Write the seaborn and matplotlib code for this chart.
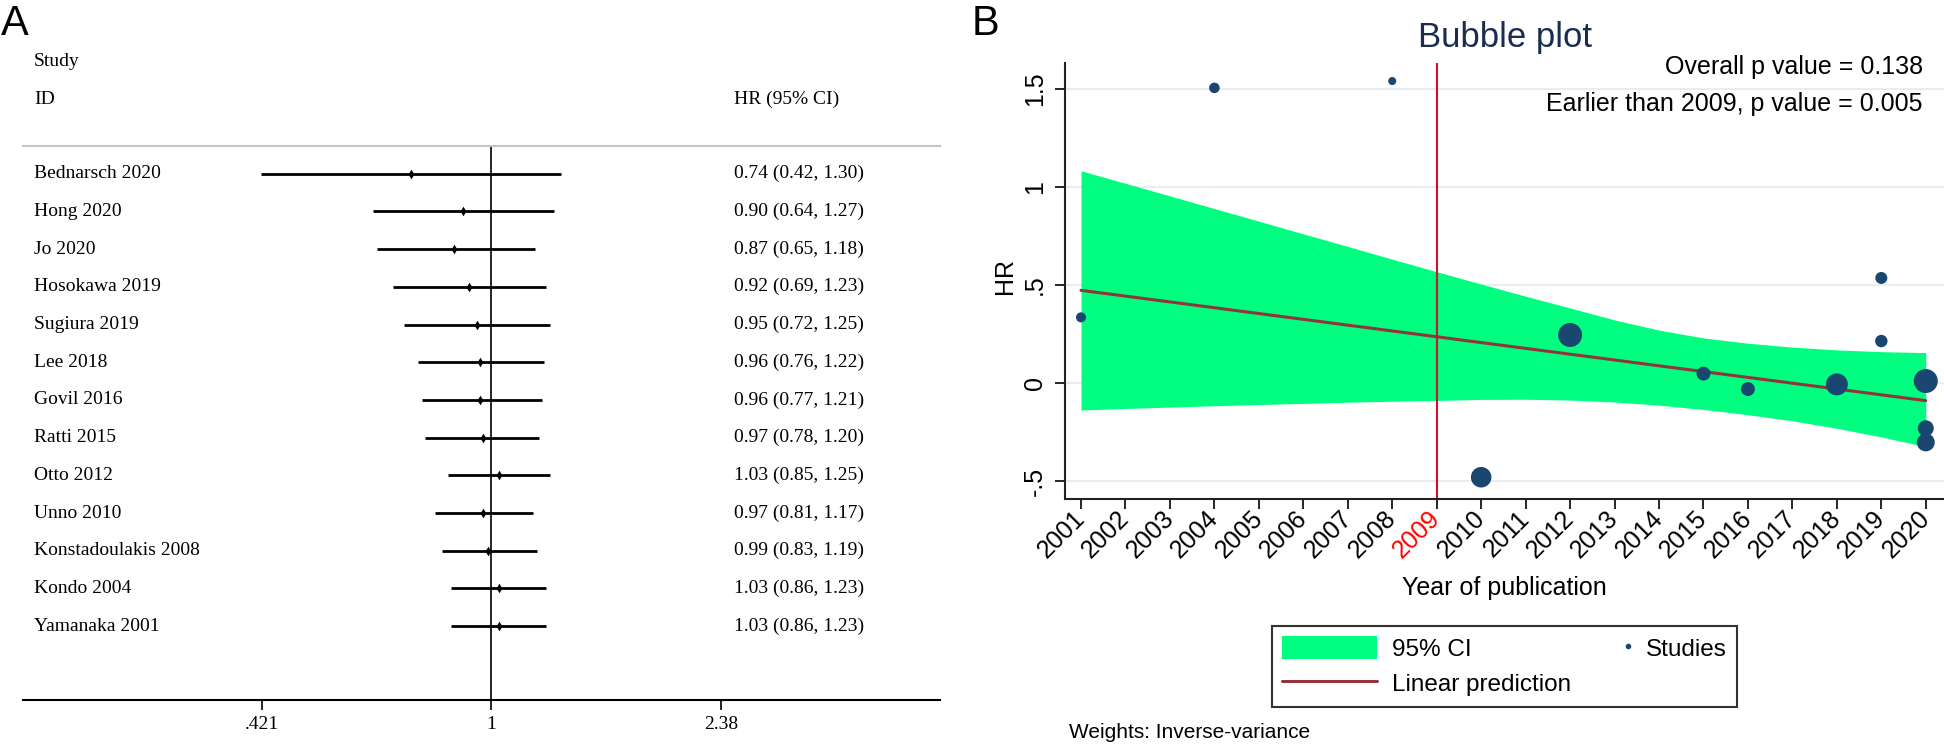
import numpy as np
import matplotlib
matplotlib.use("Agg")
import matplotlib.pyplot as plt
import matplotlib.transforms as mtransforms
from matplotlib.lines import Line2D
from matplotlib.patches import Patch
from matplotlib.legend_handler import HandlerLine2D
from matplotlib.ticker import NullLocator
import seaborn as sns

# --- Panel A: forest plot data ---
study_ids = ["Bednarsch 2020", "Hong 2020", "Jo 2020", "Hosokawa 2019", "Sugiura 2019",
             "Lee 2018", "Govil 2016", "Ratti 2015", "Otto 2012", "Unno 2010",
             "Konstadoulakis 2008", "Kondo 2004", "Yamanaka 2001"]
hr = [0.74, 0.90, 0.87, 0.92, 0.95, 0.96, 0.96, 0.97, 1.03, 0.97, 0.99, 1.03, 1.03]
hr_lo = [0.42, 0.64, 0.65, 0.69, 0.72, 0.76, 0.77, 0.78, 0.85, 0.81, 0.83, 0.86, 0.86]
hr_hi = [1.30, 1.27, 1.18, 1.23, 1.25, 1.22, 1.21, 1.20, 1.25, 1.17, 1.19, 1.23, 1.23]
forest_ticks = [0.421, 1, 2.38]
forest_tick_labels = [".421", "1", "2.38"]

# --- Panel B: bubble plot data ---
pub_year = [2001, 2004, 2008, 2010, 2012, 2015, 2016, 2018, 2019, 2019, 2020, 2020, 2020]
log_hr = [0.335, 1.506, 1.541, -0.481, 0.245, 0.048, -0.031, -0.007, 0.536, 0.214, 0.010, -0.231, -0.303]
study_weight = [2.8, 3.1, 1.8, 11.7, 16.0, 5.4, 5.4, 13.4, 4.0, 4.3, 16.0, 7.1, 9.0]
band_years = [2001, 2002, 2003, 2004, 2005, 2006, 2007, 2008, 2009, 2010,
              2011, 2012, 2013, 2014, 2015, 2016, 2017, 2018, 2019, 2020]
ci_upper = [1.083, 1.019, 0.955, 0.890, 0.826, 0.761, 0.697, 0.632, 0.568, 0.505,
            0.443, 0.383, 0.322, 0.270, 0.230, 0.203, 0.183, 0.169, 0.160, 0.155]
ci_lower = [-0.138, -0.130, -0.123, -0.116, -0.110, -0.104, -0.098, -0.093, -0.089, -0.084,
            -0.083, -0.087, -0.097, -0.113, -0.135, -0.162, -0.193, -0.231, -0.275, -0.325]
fit_years = [2001, 2020]
fit_values = [0.473, -0.090]
year_labels = [str(y) for y in band_years]
hr_ticks = [-0.5, 0, 0.5, 1, 1.5]
hr_tick_labels = ["-.5", "0", ".5", "1", "1.5"]

GREEN = "#00ff80"
MAROON = "#93343d"
NAVY = "#1a476f"
SERIF = ["Liberation Serif", "DejaVu Serif"]

sns.set_theme(style="white")
plt.rcParams["font.family"] = ["Liberation Sans", "DejaVu Sans"]
plt.rcParams["text.color"] = "black"
plt.rcParams["axes.labelcolor"] = "black"
plt.rcParams["xtick.color"] = "black"
plt.rcParams["ytick.color"] = "black"

W, H = 1944, 747
fig = plt.figure(figsize=(W / 100, H / 100), dpi=100)


def fx(px):
    return px / W


def fy(py):
    return 1 - py / H


class HandlerDotRight(HandlerLine2D):
    # single legend dot sits at the right end of the handle
    def get_xdata(self, legend, xdescent, ydescent, width, height, fontsize):
        xdata = [-xdescent + width - 0.2 * fontsize, -xdescent + width]
        return xdata, [-xdescent + width - 0.1 * fontsize]


# ---------------- Panel A ----------------
axA = fig.add_axes([fx(23), fy(700), fx(940) - fx(23), fy(145.7) - fy(700)])
rows = np.arange(len(study_ids))
axA.set_xscale("log")
axA.hlines(rows, hr_lo, hr_hi, color="black", lw=2)
sns.scatterplot(x=hr, y=rows, marker="d", s=24, color="black", linewidth=0, ax=axA, zorder=3)
axA.axvline(1, color="black", lw=1.2)
axA.set_xlim(np.exp((23 - 491) / 265), np.exp((940 - 491) / 265))
axA.set_ylim(13.96, -0.743)
axA.set_xticks(forest_ticks, forest_tick_labels)
axA.xaxis.set_minor_locator(NullLocator())
axA.set_yticks([])
axA.tick_params(axis="x", direction="out", length=7.2, width=1.2, pad=4, labelsize=14, bottom=True)
for lbl in axA.get_xticklabels():
    lbl.set_family(SERIF)
for side in ["left", "right"]:
    axA.spines[side].set_visible(False)
axA.spines["top"].set_color("#c4c4c4")
axA.spines["top"].set_linewidth(1.5)
axA.spines["bottom"].set_color("black")
axA.spines["bottom"].set_linewidth(1.5)
axA.set_xlabel("")
axA.set_ylabel("")

trans = mtransforms.blended_transform_factory(fig.transFigure, axA.transData)
for i, name in enumerate(study_ids):
    axA.text(fx(34), i, name, transform=trans, ha="left", va="center", fontsize=14, family=SERIF)
    axA.text(fx(734), i, f"{hr[i]:.2f} ({hr_lo[i]:.2f}, {hr_hi[i]:.2f})", transform=trans,
             ha="left", va="center", fontsize=14, family=SERIF)

fig.text(fx(34), fy(62), "Study", ha="left", va="center", fontsize=14, family=SERIF)
fig.text(fx(34), fy(99.5), "ID", ha="left", va="center", fontsize=14, family=SERIF)
fig.text(fx(734), fy(99.5), "HR (95% CI)", ha="left", va="center", fontsize=14, family=SERIF)
fig.text(fx(1), fy(35), "A", ha="left", va="baseline", fontsize=30)
fig.text(fx(972), fy(35), "B", ha="left", va="baseline", fontsize=30)

# ---------------- Panel B ----------------
axB = fig.add_axes([fx(1065), fy(499), 1 - fx(1065), fy(63) - fy(499)])
axB.set_axisbelow(True)
axB.yaxis.grid(True, color="#e6eef1", lw=1.5)
axB.xaxis.grid(False)
axB.fill_between(band_years, ci_lower, ci_upper, color=GREEN, lw=0, zorder=1)
sns.lineplot(x=fit_years, y=fit_values, color=MAROON, lw=2.2, ax=axB, zorder=2)
axB.axvline(2009, color="#d0112b", lw=1.5, zorder=2)
sns.scatterplot(x=pub_year, y=log_hr, size=study_weight, sizes=(0, 16 * 18.67), size_norm=(0, 16),
                color=NAVY, linewidth=0, legend=False, ax=axB, zorder=4)

axB.set_xlim(2000.64, 2020.41)
axB.set_ylim(-0.592, 1.633)
axB.set_xticks(band_years, year_labels)
axB.set_yticks(hr_ticks, hr_tick_labels)
axB.tick_params(axis="both", direction="out", length=7.2, width=1.2, labelsize=18, left=True, bottom=True)
axB.tick_params(axis="x", pad=4)
axB.tick_params(axis="y", pad=6)
for lbl in axB.get_xticklabels():
    lbl.set_rotation(45)
    lbl.set_ha("right")
    lbl.set_va("center")
    lbl.set_rotation_mode("anchor")
axB.get_xticklabels()[year_labels.index("2009")].set_color("red")
for lbl in axB.get_yticklabels():
    lbl.set_rotation(90)
    lbl.set_va("center")
    lbl.set_ha("right")
for side in ["top", "right"]:
    axB.spines[side].set_visible(False)
for side in ["left", "bottom"]:
    axB.spines[side].set_color("#222222")
    axB.spines[side].set_linewidth(1.5)

axB.set_title("Bubble plot", fontsize=25, color="#1b2d4f", pad=11.7)
axB.set_xlabel("Year of publication", fontsize=18)
axB.xaxis.set_label_coords(0.5, (499 - 588) / 436)
axB.xaxis.label.set_va("center")
axB.set_ylabel("HR", fontsize=18)
axB.yaxis.set_label_coords((1005 - 1065) / 879, (499 - 276) / 436)
axB.yaxis.label.set_va("center")

axB.text(0.9758, (499 - 67) / 436, "Overall p value = 0.138", transform=axB.transAxes,
         ha="right", va="center", fontsize=18)
axB.text(0.9758, (499 - 104) / 436, "Earlier than 2009, p value = 0.005", transform=axB.transAxes,
         ha="right", va="center", fontsize=18)

handles = [
    Patch(facecolor=GREEN, edgecolor="none", label="95% CI"),
    Line2D([], [], color=MAROON, lw=2.2, label="Linear prediction"),
    Line2D([], [], ls="none", marker="o", ms=3, color=NAVY, label="Studies"),
]
leg = fig.legend(handles=handles, ncol=2, mode="expand", loc="center",
                 bbox_to_anchor=(fx(1271.7), fy(710), fx(1736.7) - fx(1271.7), fy(622.3) - fy(710)),
                 bbox_transform=fig.transFigure, fontsize=17.5, handlelength=3.9, handleheight=1.1,
                 handletextpad=0.64, labelspacing=0.44, borderpad=0.42, borderaxespad=0,
                 fancybox=False, frameon=True, edgecolor="#333333", framealpha=1,
                 handler_map={handles[2]: HandlerDotRight()})
leg.get_frame().set_linewidth(1.5)

fig.text(fx(1069), fy(733), "Weights: Inverse-variance", ha="left", va="center", fontsize=15)

fig.savefig("out.png", dpi=100)
